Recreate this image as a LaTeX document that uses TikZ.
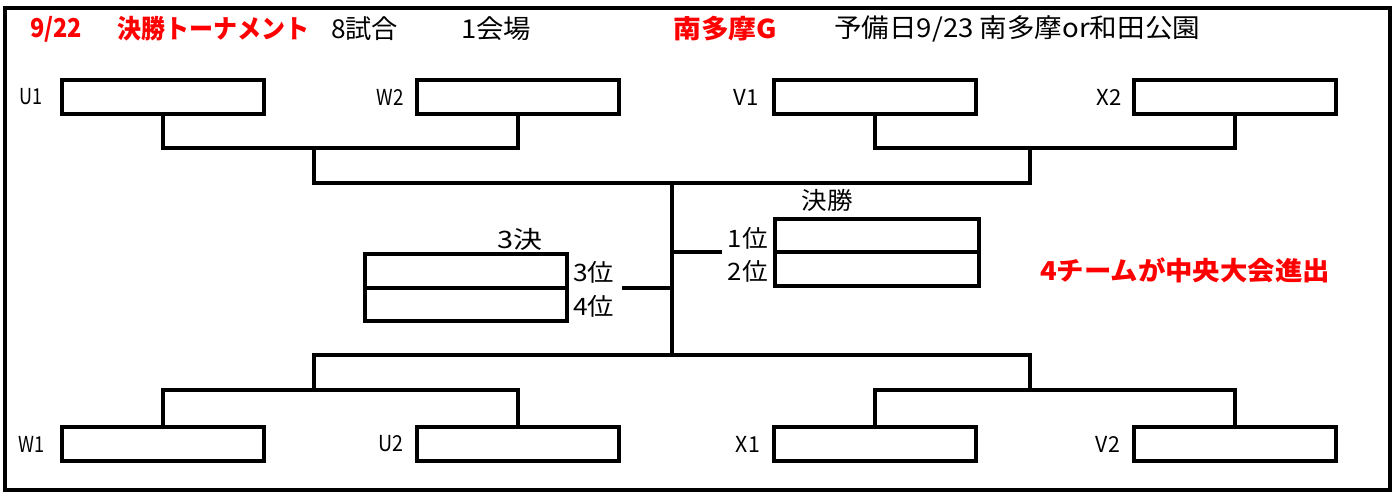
\documentclass[tikz,border=0pt]{standalone}
\usepackage{fontspec}
\usepackage{graphicx}
\setmainfont{Noto Sans CJK JP}
\definecolor{hdred}{RGB}{255,0,0}
\newcommand{\fitw}[2]{\resizebox{#1}{\height}{#2}}
\tikzset{
  slot/.style={draw, line width=3.2pt, inner sep=0pt, outer sep=0pt, minimum width=202pt, minimum height=34pt, anchor=north west},
  link/.style={line width=3.2pt},
  hd/.style={anchor=west, inner sep=0pt, font=\fontsize{26}{28}\selectfont},
  hdr/.style={hd, text=hdred, font=\fontsize{26}{28}\selectfont\bfseries},
  team/.style={anchor=east, inner sep=0pt, font=\fontsize{22}{24}\selectfont},
  rank/.style={inner sep=0pt, font=\fontsize{24}{26}\selectfont},
}
\begin{document}
\begin{tikzpicture}[x=1pt,y=-1pt]
\useasboundingbox (0,0) rectangle (1397,495);
\draw[line width=4.5pt] (5,8) rectangle (1390,490);
% header
\node[hdr] (d) at (30,29) {\fitw{52pt}{9/22}};
\node[hdr] (t) at (117,29) {\fitw{192pt}{決勝トーナメント}};
\node[hd] (g) at (331,29) {\fitw{67pt}{8試合}};
\node[hd] (k) at (461,29) {\fitw{70pt}{1会場}};
\node[hdr] (s) at (673,29) {\fitw{104pt}{南多摩G}};
\node[hd] (y) at (834,29) {\fitw{366pt}{予備日9/23 南多摩or和田公園}};
% first round boxes
\node[slot] (u1) at (62,80) {};
\node[slot] (w2) at (417,80) {};
\node[slot] (v1) at (774,80) {};
\node[slot] (x2) at (1134,80) {};
\node[slot] (w1) at (62,427) {};
\node[slot] (u2) at (417,427) {};
\node[slot] (x1) at (774,427) {};
\node[slot] (v2) at (1134,427) {};
\node[team] at ([xshift=-19pt]u1.west) {\fitw{23pt}{U1}};
\node[team] at ([xshift=-13pt]w2.west) {\fitw{27pt}{W2}};
\node[team] at ([xshift=-15pt]v1.west) {\fitw{25pt}{V1}};
\node[team] at ([xshift=-12pt]x2.west) {\fitw{25pt}{X2}};
\node[team] at ([xshift=-17pt]w1.west) {\fitw{26pt}{W1}};
\node[team] at ([xshift=-13pt]u2.west) {\fitw{25pt}{U2}};
\node[team] at ([xshift=-14pt]x1.west) {\fitw{24pt}{X1}};
\node[team] at ([xshift=-14pt]v2.west) {\fitw{24pt}{V2}};
% junctions
\coordinate (tl) at (314,148);
\coordinate (tr) at (1030,148);
\coordinate (bl) at (314,390);
\coordinate (br) at (1030,390);
\coordinate (top) at (672,183);
\coordinate (bot) at (672,355);
\draw[link] (u1.south) |- (tl) -| (w2.south);
\draw[link] (v1.south) |- (tr) -| (x2.south);
\draw[link] (w1.north) |- (bl) -| (u2.north);
\draw[link] (x1.north) |- (br) -| (v2.north);
\draw[link] (tl) |- (top) -| (tr);
\draw[link] (bl) |- (bot) -| (br);
\draw[link] (top) -- (bot);
% final
\node[slot, minimum width=204pt, minimum height=33pt] (f1) at (775,219) {};
\node[slot, minimum width=204pt, minimum height=34pt] (f2) at (775,252) {};
\node[rank] (fin) at (827,200) {\fitw{51pt}{決勝}};
\node[rank, anchor=east] (r1) at (768,238) {\fitw{40pt}{1位}};
\node[rank, anchor=east] (r2) at (768,271) {\fitw{40pt}{2位}};
\coordinate (fj) at (672,252);
\coordinate (fe) at (722,252);
\draw[link] (fj) -- (fe);
% third place
\node[slot, minimum width=202pt, minimum height=34pt] (p3) at (365,254) {};
\node[slot, minimum width=202pt, minimum height=33pt] (p4) at (365,288) {};
\node[rank] (thr) at (520,239) {\fitw{45pt}{3決}};
\node[rank, anchor=west] (r3) at (573,272) {\fitw{41pt}{3位}};
\node[rank, anchor=west] (r4) at (573,306) {\fitw{41pt}{4位}};
\coordinate (tj) at (672,288);
\coordinate (te) at (622,288);
\draw[link] (te) -- (tj);
% note
\node[inner sep=0pt, text=hdred, font=\fontsize{26}{28}\selectfont\bfseries] (note) at (1185,270) {\fitw{290pt}{4チームが中央大会進出}};
\end{tikzpicture}
\end{document}
